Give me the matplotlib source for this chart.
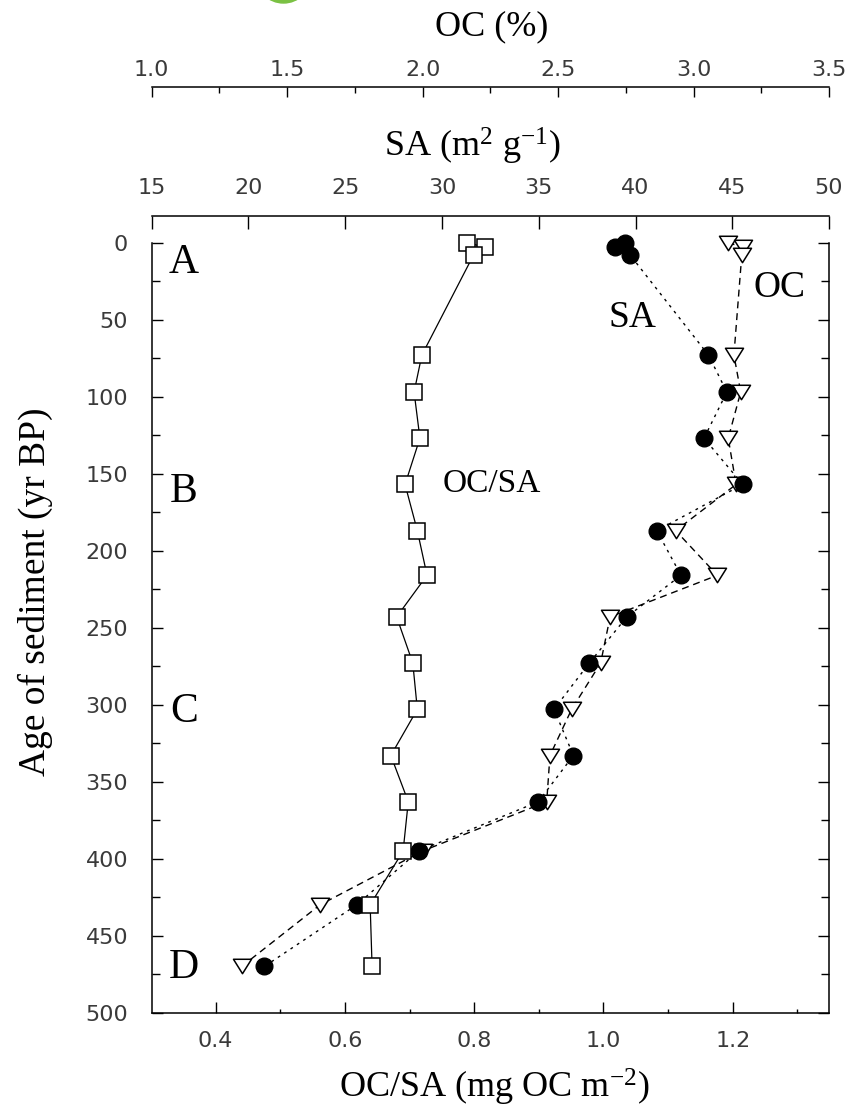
import matplotlib
matplotlib.use('Agg')
import matplotlib.pyplot as plt
from matplotlib.path import Path
from matplotlib.patches import Ellipse
from matplotlib.ticker import MultipleLocator, FormatStrFormatter

# ---------------------------------------------------------
# values
# ---------------------------------------------------------
age = [0, 3, 8, 73, 97, 127, 157, 187, 216, 243, 273, 303, 333, 363, 395, 430, 470]
oc_sa = [0.789, 0.817, 0.799, 0.719, 0.707, 0.716, 0.693, 0.712, 0.727,
         0.680, 0.705, 0.712, 0.671, 0.698, 0.690, 0.639, 0.642]     # mg OC m-2
sa = [39.46, 38.94, 39.72, 43.77, 44.72, 43.54, 45.54, 41.10, 42.35,
      39.55, 37.61, 35.79, 36.79, 34.98, 28.80, 25.59, 20.82]         # m2 g-1
oc = [3.126, 3.184, 3.178, 3.149, 3.174, 3.128, 3.157, 2.934, 3.088,
      2.692, 2.657, 2.550, 2.470, 2.458, 2.00, 1.621, 1.332]          # %

zone_letters = ['A', 'B', 'C', 'D']
zone_ages = [19.7, 168.4, 311.2, 477.5]

plt.rcParams['mathtext.fontset'] = 'custom'
plt.rcParams['mathtext.rm'] = 'Liberation Serif'
plt.rcParams['mathtext.it'] = 'Liberation Serif:italic'

SERIF = 'Liberation Serif'
TICK_C = '#3a3a3a'
TICK_FS = 16

fig = plt.figure(figsize=(8.59, 11.06), dpi=100)
ax = fig.add_axes([0.1766, 0.08436, 0.7885, 0.72034])

# main axis: OC/SA vs age
ax.set_xlim(0.301, 1.349)
ax.set_ylim(500, -17.3)
for s in ['left', 'right', 'bottom']:
    ax.spines[s].set_linewidth(1.1)
ax.spines['top'].set_visible(False)
ax.spines['left'].set_bounds(0, 500)
ax.spines['right'].set_bounds(0, 500)

ax.yaxis.set_major_locator(MultipleLocator(50))
ax.yaxis.set_minor_locator(MultipleLocator(25))
ax.set_yticks(range(0, 501, 50))
ax.set_xticks([0.4, 0.6, 0.8, 1.0, 1.2])
ax.set_xticks([0.5, 0.7, 0.9, 1.1, 1.3], minor=True)
ax.xaxis.set_major_formatter(FormatStrFormatter('%.1f'))
ax.tick_params(axis='y', which='both', direction='in', left=True, right=True,
               labelright=False, width=1.0, labelsize=TICK_FS, labelcolor=TICK_C, pad=17)
ax.tick_params(axis='y', which='major', length=8)
ax.tick_params(axis='y', which='minor', length=6)
ax.tick_params(axis='x', which='both', direction='in', top=False, width=1.0,
               labelsize=TICK_FS, labelcolor=TICK_C, pad=13)
ax.tick_params(axis='x', which='major', length=8)
ax.tick_params(axis='x', which='minor', length=3)

# SA axis (top)
ax2 = ax.twiny()
ax2.set_xlim(15, 50)
ax2.set_xticks(range(15, 51, 5))
for s in ['left', 'right', 'bottom']:
    ax2.spines[s].set_visible(False)
ax2.spines['top'].set_linewidth(1.1)
ax2.tick_params(axis='x', direction='in', length=9, width=1.0, labelsize=TICK_FS,
                labelcolor=TICK_C, pad=13)

# OC axis (top, further up)
ax3 = ax.twiny()
ax3.set_xlim(1.0, 3.5)
ax3.set_xticks([1.0, 1.5, 2.0, 2.5, 3.0, 3.5])
ax3.set_xticks([1.25, 1.75, 2.25, 2.75, 3.25], minor=True)
ax3.xaxis.set_major_formatter(FormatStrFormatter('%.1f'))
for s in ['left', 'right', 'bottom']:
    ax3.spines[s].set_visible(False)
ax3.spines['top'].set_position(('outward', 92.9))
ax3.spines['top'].set_linewidth(1.1)
ax3.tick_params(axis='x', which='both', direction='in', width=1.0, labelsize=TICK_FS,
                labelcolor=TICK_C, pad=5)
ax3.tick_params(axis='x', which='major', length=7)
ax3.tick_params(axis='x', which='minor', length=4)

# draw order: triangles under circles under squares
ax3.set_zorder(1)
ax2.set_zorder(2)
ax.set_zorder(3)
ax.patch.set_visible(False)
ax2.patch.set_visible(False)

tri = Path([(-1, 0.8), (1, 0.8), (0, -0.8), (-1, 0.8)],
           [Path.MOVETO, Path.LINETO, Path.LINETO, Path.CLOSEPOLY])

ax3.plot(oc, age, color='black', lw=1.0, linestyle=(0, (5, 3.5)),
         marker=tri, ms=13, mfc='white', mec='black', mew=1.1, clip_on=False)
ax2.plot(sa, age, color='black', lw=1.0, linestyle=(0, (2, 3.5)),
         marker='o', ms=12, mfc='black', mec='black', clip_on=False)
ax.plot(oc_sa, age, color='black', lw=0.9, linestyle='-',
        marker='s', ms=11, mfc='white', mec='black', mew=1.1, clip_on=False)

# zone letters and curve labels
for letter, a in zip(zone_letters, zone_ages):
    ax.text(0.351, a, letter, family=SERIF, fontsize=30, ha='center', va='baseline')
ax.text(0.828, 162, 'OC/SA', family=SERIF, fontsize=24, ha='center', va='baseline')
ax.text(1.045, 54.7, 'SA', family=SERIF, fontsize=27, ha='center', va='baseline')
ax.text(1.272, 35.3, 'OC', family=SERIF, fontsize=27, ha='center', va='baseline')

# axis titles
W, H = 859.0, 1106.0
fig.text(492 / W, 1 - 35 / H, 'OC (%)', family=SERIF, fontsize=26,
         ha='center', va='baseline')
fig.text(472 / W, 1 - 157 / H, r'SA (m$^{2}$ g$^{-1}$)', family=SERIF, fontsize=26,
         ha='center', va='baseline')
fig.text(494 / W, 1 - 1098 / H, r'OC/SA (mg OC m$^{-2}$)', family=SERIF, fontsize=26,
         ha='center', va='baseline')
fig.text(35 / W, 1 - 592 / H, 'Age of sediment (yr BP)', family=SERIF, fontsize=27,
         rotation=90, ha='center', va='center')

# green scan artefact at the top edge
fig.patches.append(Ellipse((283.5 / W, 1 + 24.5 / H), 55 / W, 55 / H,
                           transform=fig.transFigure, color='#7ac143', zorder=0))

fig.savefig('out.png', dpi=100)
